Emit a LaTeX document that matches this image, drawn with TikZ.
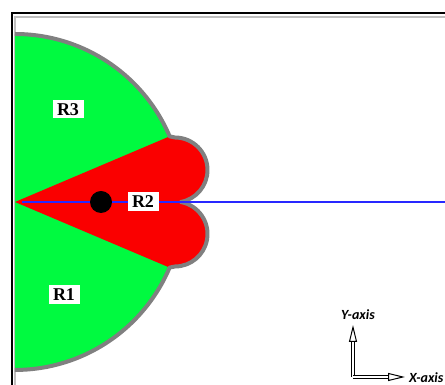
\documentclass[tikz,border=0pt]{standalone}
\usepackage{fontspec}
\setmainfont{Liberation Serif}
\newfontfamily\axisfont{Carlito}
\usetikzlibrary{arrows.meta}

\definecolor{regiongreen}{RGB}{0,250,64}
\definecolor{regionred}{RGB}{250,0,0}
\definecolor{rimgray}{RGB}{128,128,128}
\definecolor{beamblue}{RGB}{40,40,255}

\tikzset{
  rimline/.style={draw=rimgray, line width=4pt, line join=round},
  regionlabel/.style={fill=white, font=\fontsize{18}{18}\selectfont\bfseries,
    inner xsep=4.5pt, inner ysep=3.3pt, text height=12.3pt, text depth=0pt},
  axislabel/.style={font=\axisfont\fontsize{14}{14}\selectfont\bfseries\itshape, inner sep=0pt},
  axisarrow/.style={draw=black, line width=1pt, double=white, double distance=1.8pt,
    -{Triangle[open, length=17pt, width=8pt, line width=1pt]}}
}

\begin{document}
\begin{tikzpicture}[x=1pt,y=1pt]
\useasboundingbox (0,0) rectangle (445,385);
\draw[black, line width=2pt] (11.5,372) rectangle (470,-20);
\draw[black!25, line width=1.2pt] (15,368) rectangle (470,-20);
\coordinate (apex) at (15,183);
\coordinate (top) at (15,351);
\coordinate (cornerup) at (169.6,248.6);
\coordinate (cornerdn) at (169.6,117.4);
\coordinate (lobeup) at (175,247.5);
\coordinate (lobedn) at (175,118.5);
\coordinate (beamend) at (470,183);
\fill[regiongreen] (15,15) arc[start angle=-90, end angle=90, radius=168] -- cycle;
\fill[regionred] (apex) -- (cornerup) -- (lobeup)
  arc[start angle=90, end angle=-79.9, radius=32.5]
  arc[start angle=79.9, end angle=-90, radius=32.5] -- (cornerdn) -- cycle;
\draw[rimline] (top) arc[start angle=90, end angle=23, radius=168] -- (lobeup)
  arc[start angle=90, end angle=-79.9, radius=32.5]
  arc[start angle=79.9, end angle=-90, radius=32.5] -- (cornerdn)
  arc[start angle=-23, end angle=-90, radius=168];
\coordinate (beamstart) at (22,183);
\draw[beamblue, line width=1.1pt] (beamstart) -- (beamend);
\node[circle, fill=black, minimum size=22pt, inner sep=0pt] (dot) at (101,183) {};
\node[regionlabel] (r3) at (68,276) {R3};
\node[regionlabel] (r2) at (143,183.5) {R2};
\node[regionlabel] (r1) at (64,90.5) {R1};
\coordinate (origin) at (353,8);
\coordinate (ytip) at (353,60);
\coordinate (xtip) at (405,8);
\draw[axisarrow] (origin) -- (ytip);
\draw[axisarrow] (origin) -- (xtip);
\node[axislabel] (ylab) at (358,70.5) {Y-axis};
\node[axislabel, anchor=west] (xlab) at (409,7) {X-axis};
\end{tikzpicture}
\end{document}
